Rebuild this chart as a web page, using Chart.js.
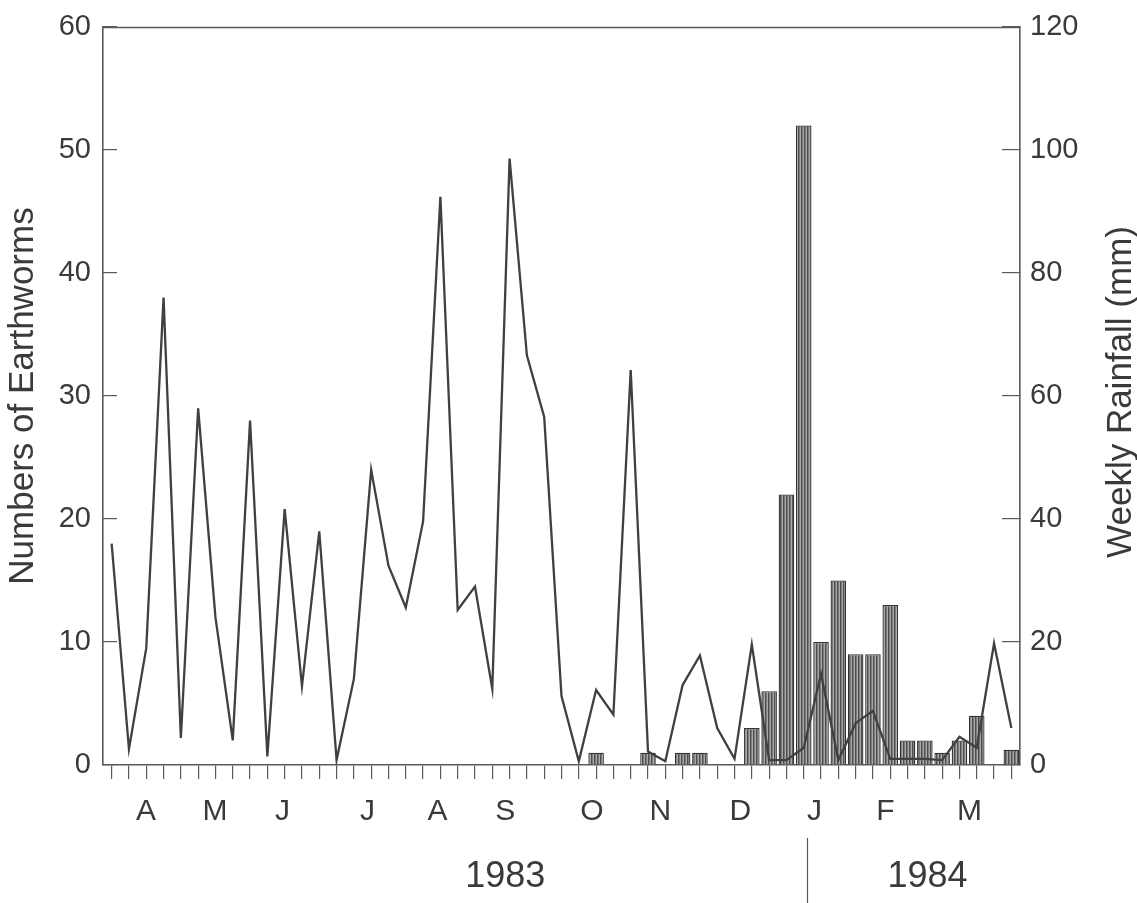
<!DOCTYPE html>
<html>
<head>
<meta charset="utf-8">
<script src="https://cdn.jsdelivr.net/npm/chart.js@4.4.1/dist/chart.umd.min.js"></script>
<style>
  html, body { margin: 0; padding: 0; background: #ffffff; }
  #wrap { width: 1137px; height: 903px; position: relative; }
</style>
</head>
<body>
<div id="wrap"><canvas id="c" width="1137" height="903"></canvas></div>
<script>
// ---- data (weekly samples, index 0 .. 52) ----
const weeks = Array.from({length: 53}, (_, i) => i);
const earthworms = [18, 1.3, 9.5, 38, 2.2, 29, 12, 2, 28, 0.7,
  20.8, 6.4, 19, 0.4, 7, 24, 16.2, 12.8, 19.8, 46.2,
  12.6, 14.5, 6.2, 49.3, 33.3, 28.3, 5.6, 0.3, 6.1, 4.1,
  32.1, 1.1, 0.3, 6.5, 8.9, 3.0, 0.5, 9.8, 0.4, 0.4,
  1.4, 7.4, 0.4, 3.4, 4.4, 0.5, 0.5, 0.5, 0.4, 2.3,
  1.4, 9.9, 3.0];
const rainfall = [0, 0, 0, 0, 0, 0, 0, 0, 0, 0,
  0, 0, 0, 0, 0, 0, 0, 0, 0, 0,
  0, 0, 0, 0, 0, 0, 0, 0, 2, 0,
  0, 2, 0, 2, 2, 0, 0, 6, 12, 44,
  104, 20, 30, 18, 18, 26, 4, 4, 2, 4,
  8, 0, 2.5];
const monthLabels = ['A', 'M', 'J', 'J', 'A', 'S', 'O', 'N', 'D', 'J', 'F', 'M'];
const monthPositions = [1.98, 5.97, 9.88, 14.79, 18.84, 22.75, 27.76, 31.71, 36.34, 40.62, 44.72, 49.58];
const yearLabels = ['1983', '1984'];
const yearPositions = [22.75, 47.15];
const yearDivider = 40.2;
const leftTicks = [0, 10, 20, 30, 40, 50, 60];
const rightTicks = [0, 20, 40, 60, 80, 100, 120];

// ---- styles ----
const FONT = "'Liberation Sans', Arial, Helvetica, sans-serif";
const TXT = '#3a3a3a';
const AX = '#5a5a5a';

function hatch() {
  const c = document.createElement('canvas');
  c.width = 3; c.height = 4;
  const g = c.getContext('2d');
  g.fillStyle = '#7c7c7c'; g.fillRect(0, 0, 3, 4);
  g.fillStyle = '#4e4e4e'; g.fillRect(0, 0, 1, 4);
  g.fillStyle = '#a8a8a8'; g.fillRect(2, 0, 1, 4);
  return g.createPattern(c, 'repeat');
}

const extras = {
  id: 'extras',
  afterDraw(chart) {
    const ctx = chart.ctx;
    const ca = chart.chartArea;
    ctx.save();
    // top frame line
    ctx.strokeStyle = AX;
    ctx.lineWidth = 1.3;
    ctx.beginPath();
    ctx.moveTo(ca.left, Math.round(ca.top) + 0.5);
    ctx.lineTo(ca.right, Math.round(ca.top) + 0.5);
    ctx.stroke();
    // year divider
    const xs = chart.scales.x;
    const dx = Math.round(xs.getPixelForValue(yearDivider)) + 0.5;
    ctx.strokeStyle = '#555';
    ctx.lineWidth = 1.2;
    ctx.beginPath();
    ctx.moveTo(dx, 838);
    ctx.lineTo(dx, 903);
    ctx.stroke();
    // right axis title (reads bottom-to-top)
    const r = chart.scales.y2;
    ctx.translate(r.right - 16, (ca.top + ca.bottom) / 2 - 4);
    ctx.rotate(-Math.PI / 2);
    ctx.fillStyle = TXT;
    ctx.font = "35px " + FONT;
    ctx.textAlign = 'center';
    ctx.textBaseline = 'middle';
    ctx.fillText('Weekly Rainfall (mm)', 0, 0);
    ctx.restore();
  }
};

function fixV(width) {
  return s => { s.width = width; s.paddingTop = 0; s.paddingBottom = 0; };
}

new Chart(document.getElementById('c'), {
  data: {
    datasets: [
      {
        type: 'line',
        label: 'Numbers of Earthworms',
        data: weeks.map(i => ({x: i, y: earthworms[i]})),
        xAxisID: 'x', yAxisID: 'y',
        borderColor: '#404040', borderWidth: 2.3,
        pointRadius: 0, tension: 0, fill: false,
        order: 0
      },
      {
        type: 'bar',
        label: 'Weekly Rainfall (mm)',
        data: weeks.filter(i => rainfall[i] > 0).map(i => ({x: i, y: rainfall[i]})),
        xAxisID: 'x', yAxisID: 'y2',
        backgroundColor: hatch(),
        borderColor: '#333333', borderWidth: 1.3,
        barPercentage: 0.9, categoryPercentage: 1.0,
        order: 1
      }
    ]
  },
  options: {
    responsive: false,
    animation: false,
    events: [],
    layout: { autoPadding: false, padding: { top: 27, left: 0, right: 0, bottom: 0 } },
    plugins: { legend: { display: false }, tooltip: { enabled: false } },
    scales: {
      x: {
        type: 'linear', position: 'bottom', weight: 0, offset: false,
        min: -0.5, max: 52.5,
        afterBuildTicks: s => { s.ticks = weeks.map(v => ({value: v})); },
        afterFit: s => { s.height = 15; },
        ticks: { callback: () => '', font: { size: 10 } },
        grid: { drawOnChartArea: false, drawTicks: true, tickLength: 14, color: AX, lineWidth: 1.2, offset: false },
        border: { display: true, color: AX, width: 1.6 }
      },
      xm: {
        type: 'linear', position: 'bottom', weight: 1, offset: false,
        min: -0.5, max: 52.5,
        afterBuildTicks: s => { s.ticks = monthPositions.map(v => ({value: v})); },
        afterFit: s => { s.height = 45; },
        ticks: {
          autoSkip: false, maxRotation: 0, padding: 14,
          color: TXT, font: { family: FONT, size: 30 },
          callback: (v, i) => monthLabels[i]
        },
        grid: { display: false, drawTicks: false },
        border: { display: false }
      },
      xy: {
        type: 'linear', position: 'bottom', weight: 2, offset: false,
        min: -0.5, max: 52.5,
        afterBuildTicks: s => { s.ticks = yearPositions.map(v => ({value: v})); },
        afterFit: s => { s.height = 78; },
        ticks: {
          autoSkip: false, maxRotation: 0, padding: 30,
          color: TXT, font: { family: FONT, size: 36 },
          callback: (v, i) => yearLabels[i]
        },
        grid: { display: false, drawTicks: false },
        border: { display: false }
      },
      y: {
        type: 'linear', position: 'left',
        min: 0, max: 60,
        afterBuildTicks: s => { s.ticks = leftTicks.map(v => ({value: v})); },
        afterFit: fixV(103),
        ticks: { padding: 26, color: TXT, font: { family: FONT, size: 29 } },
        grid: { drawOnChartArea: false, drawTicks: true, tickLength: -14, color: AX, lineWidth: 1.2 },
        border: { display: true, color: AX, width: 1.6 },
        title: {
          display: true, text: 'Numbers of Earthworms',
          color: TXT, font: { family: FONT, size: 35 },
          padding: { top: 2, bottom: 0 }
        }
      },
      y2: {
        type: 'linear', position: 'right',
        min: 0, max: 120,
        afterBuildTicks: s => { s.ticks = rightTicks.map(v => ({value: v})); },
        afterFit: fixV(117),
        ticks: { padding: 28, color: TXT, font: { family: FONT, size: 29 } },
        grid: { drawOnChartArea: false, drawTicks: true, tickLength: -18, color: AX, lineWidth: 1.2 },
        border: { display: true, color: AX, width: 1.6 }
      }
    }
  },
  plugins: [extras]
});
</script>
</body>
</html>
